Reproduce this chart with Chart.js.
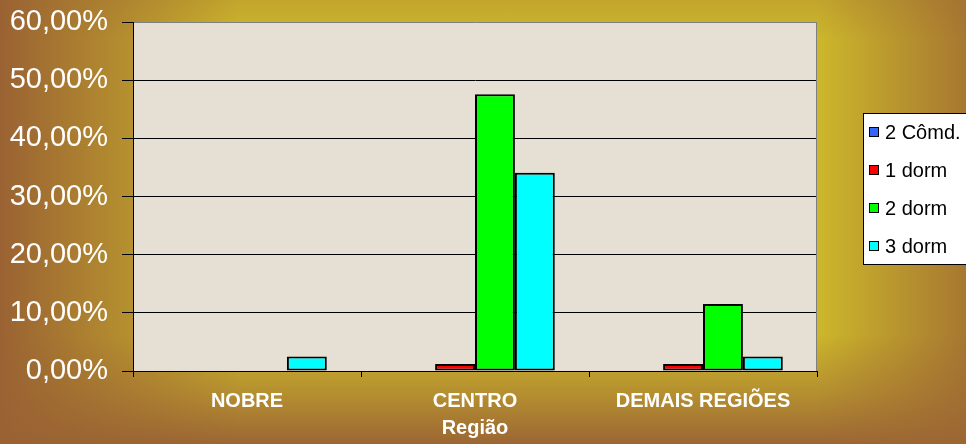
<!DOCTYPE html>
<html>
<head>
<meta charset="utf-8">
<script src="https://cdn.jsdelivr.net/npm/chart.js@4/dist/chart.umd.min.js"></script>
<style>
  html, body { margin: 0; padding: 0; }
  body {
    width: 966px; height: 444px; overflow: hidden;
    background:
      linear-gradient(to right, rgba(154,98,51,1) 0px, rgba(154,98,51,0.55) 110px, rgba(154,98,51,0) 240px),
      linear-gradient(to top, rgba(156,102,52,1) 0px, rgba(156,102,52,0.5) 50px, rgba(156,102,52,0) 110px),
      linear-gradient(to left, rgba(154,98,51,0.75) 0px, rgba(154,98,51,0) 150px),
      linear-gradient(to bottom, rgba(160,110,50,0.25) 0px, rgba(160,110,50,0) 40px),
      #cdb82b;
  }
  canvas { display: block; }
</style>
</head>
<body>
<canvas id="c" width="966" height="444"></canvas>
<script>
const categories = ['NOBRE', 'CENTRO', 'DEMAIS REGIÕES'];
const seriesNames = ['2 Cômd.', '1 dorm', '2 dorm', '3 dorm'];
const cmd2Values = [0, 0, 0];
const dorm1Values = [0, 1.2, 1.2];
const dorm2Values = [0, 47.6, 11.5];
const dorm3Values = [2.5, 34.1, 2.5];
const yTickLabels = ['0,00%', '10,00%', '20,00%', '30,00%', '40,00%', '50,00%', '60,00%'];
const axisTitle = 'Região';

const seriesColors = ['#3366ff', '#ff0000', '#00ff00', '#00ffff'];
const seriesValues = [cmd2Values, dorm1Values, dorm2Values, dorm3Values];

const FONT = "'Liberation Sans', Arial, sans-serif";

const plotBg = {
  id: 'plotBg',
  beforeDraw(chart) {
    const { ctx, chartArea: a } = chart;
    ctx.save();
    ctx.fillStyle = '#e6dfd3';
    ctx.fillRect(a.left, a.top, a.right - a.left, a.bottom - a.top);
    ctx.restore();
  },
  beforeDatasetsDraw(chart) {
    const { ctx, chartArea: a } = chart;
    ctx.save();
    ctx.strokeStyle = '#808080';
    ctx.lineWidth = 1;
    ctx.beginPath();
    ctx.moveTo(Math.round(a.right) - 0.5, a.top);
    ctx.lineTo(Math.round(a.right) - 0.5, a.bottom);
    ctx.stroke();
    ctx.restore();
  }
};

const boxLegend = {
  id: 'boxLegend',
  afterDraw(chart) {
    const { ctx } = chart;
    const x0 = 863, y0 = 113, w = 110, h = 151;
    ctx.save();
    ctx.fillStyle = '#ffffff';
    ctx.fillRect(x0, y0, w, h);
    ctx.strokeStyle = '#000000';
    ctx.lineWidth = 1;
    ctx.strokeRect(x0 + 0.5, y0 + 0.5, w, h);
    ctx.font = '20px ' + FONT;
    ctx.textBaseline = 'middle';
    ctx.textAlign = 'left';
    chart.data.datasets.forEach((ds, i) => {
      const cy = 132 + i * 38;
      ctx.fillStyle = ds.backgroundColor;
      ctx.fillRect(869, cy - 5, 10, 10);
      ctx.strokeStyle = '#000';
      ctx.strokeRect(869.5, cy - 4.5, 9, 9);
      ctx.fillStyle = '#000';
      ctx.fillText(ds.label, 885, cy + 1);
    });
    ctx.restore();
  }
};

new Chart(document.getElementById('c'), {
  type: 'bar',
  data: {
    labels: categories,
    datasets: seriesNames.map((name, i) => ({
      label: name,
      data: seriesValues[i],
      backgroundColor: seriesColors[i],
      borderColor: '#000000',
      borderWidth: 2,
      borderSkipped: false,
      categoryPercentage: 0.7,
      barPercentage: 1.0
    }))
  },
  options: {
    responsive: false,
    devicePixelRatio: 1,
    animation: false,
    layout: { padding: { top: 22, right: 149, bottom: 0, left: 0 } },
    plugins: { legend: { display: false }, tooltip: { enabled: false } },
    scales: {
      x: {
        offset: true,
        grid: { offset: true, drawOnChartArea: false, tickLength: 6, color: '#000', tickColor: '#000' },
        border: { color: '#000', width: 1 },
        ticks: { color: '#ffffff', font: { family: FONT, size: 20, weight: 'bold' }, padding: 12, maxRotation: 0 },
        title: { display: true, text: axisTitle, color: '#ffffff', font: { family: FONT, size: 20, weight: 'bold' }, padding: { top: 3, bottom: 4 } },
        afterFit(s) { s.height = 73; }
      },
      y: {
        min: 0, max: 60,
        ticks: {
          stepSize: 10,
          color: '#ffffff',
          font: { family: FONT, size: 29 },
          padding: 14,
          callback: (v, i) => yTickLabels[i]
        },
        grid: {
          tickLength: 11,
          color: (c) => (c.tick && c.tick.value === 60 ? '#808080' : '#000000'),
          tickColor: '#000000'
        },
        border: { color: '#000', width: 1 },
        afterFit(s) { s.width = 133; s.paddingTop = 0; s.paddingBottom = 0; }
      }
    }
  },
  plugins: [plotBg, boxLegend]
});
</script>
</body>
</html>
